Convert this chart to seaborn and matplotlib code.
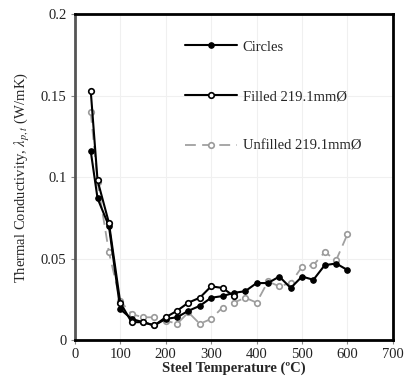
import pandas as pd
import matplotlib
matplotlib.use('Agg')
import matplotlib.pyplot as plt
import seaborn as sns

# Temperatures (°C) and thermal conductivity values
temp_circles = [35, 50, 75, 100, 125, 150, 175, 200, 225, 250, 275, 300, 325, 350,
                375, 400, 425, 450, 475, 500, 525, 550, 575, 600]
k_circles = [0.116, 0.087, 0.070, 0.019, 0.013, 0.011, 0.009, 0.013, 0.014, 0.018,
             0.021, 0.026, 0.027, 0.029, 0.030, 0.035, 0.035, 0.039, 0.032, 0.039,
             0.037, 0.046, 0.047, 0.043]

temp_filled = [35, 50, 75, 100, 125, 150, 175, 200, 225, 250, 275, 300, 325, 350]
k_filled = [0.153, 0.098, 0.072, 0.023, 0.011, 0.011, 0.009, 0.014, 0.018, 0.023,
            0.026, 0.033, 0.032, 0.027]

temp_unfilled = [35, 50, 75, 100, 125, 150, 175, 200, 225, 250, 275, 300, 325, 350,
                 375, 400, 425, 450, 475, 500, 525, 550, 575, 600]
k_unfilled = [0.140, 0.097, 0.054, 0.024, 0.016, 0.014, 0.014, 0.012, 0.010, 0.017,
              0.010, 0.013, 0.020, 0.023, 0.026, 0.023, 0.036, 0.033, 0.035, 0.045,
              0.046, 0.054, 0.049, 0.065]

labels = ['Circles', 'Filled 219.1mmØ', 'Unfilled 219.1mmØ']
x_ticks = [0, 100, 200, 300, 400, 500, 600, 700]
y_ticks = [0, 0.05, 0.1, 0.15, 0.2]
y_tick_labels = ['0', '0.05', '0.1', '0.15', '0.2']

df_c = pd.DataFrame({'T': temp_circles, 'k': k_circles})
df_f = pd.DataFrame({'T': temp_filled, 'k': k_filled})
df_u = pd.DataFrame({'T': temp_unfilled, 'k': k_unfilled})

sns.set_style('white')
plt.rcParams['font.family'] = ['Liberation Serif', 'DejaVu Serif']
plt.rcParams['mathtext.fontset'] = 'stix'

fig, ax = plt.subplots(figsize=(4.18, 3.83), dpi=100)
fig.subplots_adjust(left=0.179, right=0.940, bottom=0.112, top=0.963)

sns.lineplot(data=df_u, x='T', y='k', ax=ax, color='#a0a0a0', linewidth=1.3,
             dashes=False, linestyle=(0, (6, 3.5)), marker='o', markersize=4,
             markerfacecolor='white', markeredgecolor='#9a9a9a', markeredgewidth=1.2,
             label=labels[2])
sns.lineplot(data=df_c, x='T', y='k', ax=ax, color='black', linewidth=1.5,
             marker='o', markersize=4, markerfacecolor='black',
             markeredgecolor='black', label=labels[0])
sns.lineplot(data=df_f, x='T', y='k', ax=ax, color='black', linewidth=1.5,
             marker='o', markersize=4, markerfacecolor='white',
             markeredgecolor='black', markeredgewidth=1.2, label=labels[1])

ax.set_xlim(0, 700)
ax.set_ylim(0, 0.2)
ax.set_xticks(x_ticks)
ax.set_yticks(y_ticks)
ax.set_yticklabels(y_tick_labels)
ax.grid(True, color='#f0f0f0', linewidth=0.8)
ax.tick_params(axis='both', direction='out', length=3, width=0.8, color='#888888',
               labelsize=10.5, labelcolor='#222222', pad=3)
ax.tick_params(axis='both', bottom=True, left=True)

for side in ['top', 'right', 'bottom']:
    ax.spines[side].set_color('black')
    ax.spines[side].set_linewidth(2)
ax.spines['left'].set_color('#555555')
ax.spines['left'].set_linewidth(2)

ax.set_xlabel('Steel Temperature (ºC)', fontsize=10.5, fontweight='bold', labelpad=0)
ax.set_ylabel(r'Thermal Conductivity, $\lambda_{p,t}$ (W/mK)', fontsize=10.5, labelpad=6)

handles, lbls = ax.get_legend_handles_labels()
order = [lbls.index(l) for l in labels]
leg = ax.legend([handles[i] for i in order], [lbls[i] for i in order],
                loc='upper left', bbox_to_anchor=(0.305, 0.96), frameon=False,
                fontsize=10.5, handlelength=3.6, labelspacing=2.5, handletextpad=0.35)

fig.savefig('out.png', dpi=100)
